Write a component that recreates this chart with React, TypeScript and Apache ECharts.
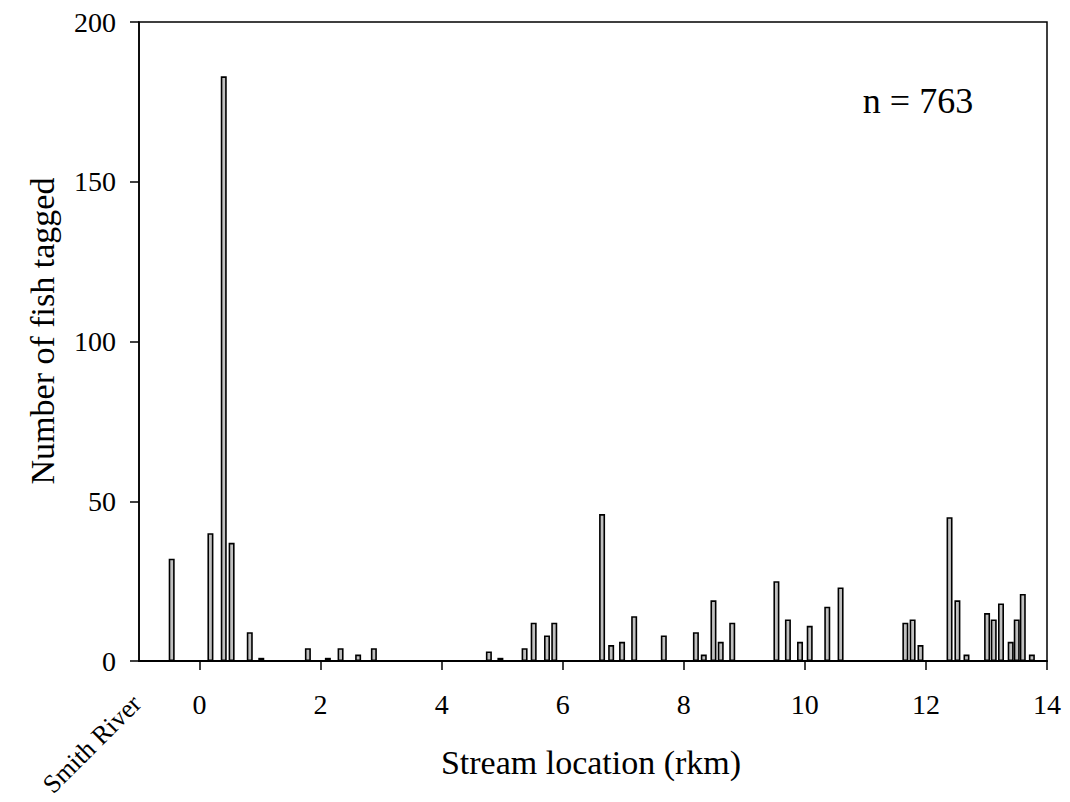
import React, { useEffect, useRef } from "react";
import * as echarts from "echarts";

const locations = [
  -0.46, 0.18, 0.4, 0.53, 0.83, 1.02, 1.79, 2.12, 2.33, 2.62, 2.88, 4.78, 4.97,
  5.37, 5.52, 5.74, 5.86, 6.65, 6.8, 6.98, 7.18, 7.67, 8.2, 8.33, 8.49, 8.61,
  8.8, 9.53, 9.72, 9.92, 10.08, 10.37, 10.59, 11.66, 11.78, 11.91, 12.39, 12.52,
  12.67, 13.01, 13.12, 13.24, 13.4, 13.5, 13.6, 13.75,
];
const counts = [
  32, 40, 183, 37, 9, 1, 4, 1, 4, 2, 4, 3, 1, 4, 12, 8, 12, 46, 5, 6, 14, 8, 9,
  2, 19, 6, 12, 25, 13, 6, 11, 17, 23, 12, 13, 5, 45, 19, 2, 15, 13, 18, 6, 13,
  21, 2,
];
const xTickValues = [0, 2, 4, 6, 8, 10, 12, 14];
const yTickValues = [0, 50, 100, 150, 200];

const FONT = "'Liberation Serif', 'Times New Roman', serif";

export default function App() {
  const ref = useRef<HTMLDivElement>(null);
  useEffect(() => {
    if (!ref.current) return;
    const chart = echarts.init(ref.current, null, { renderer: "svg" });
    const data = locations.map((x, i) => [x, counts[i]]);
    chart.setOption({
      animation: false,
      backgroundColor: "#fff",
      grid: {
        left: 139,
        right: 23,
        top: 22,
        bottom: 141,
        show: true,
        borderColor: "#000",
        borderWidth: 1.5,
        backgroundColor: "transparent",
      },
      xAxis: {
        type: "value",
        min: -1,
        max: 14,
        splitLine: { show: false },
        axisLine: { show: true, onZero: false, lineStyle: { color: "#000", width: 2 } },
        axisTick: {
          show: true,
          inside: false,
          length: 9,
          customValues: xTickValues,
          lineStyle: { color: "#000", width: 1.5 },
        },
        axisLabel: {
          customValues: xTickValues,
          color: "#000",
          fontFamily: FONT,
          fontSize: 28,
          margin: 29,
        },
      },
      yAxis: {
        type: "value",
        min: 0,
        max: 200,
        interval: 50,
        splitLine: { show: false },
        axisLine: { show: true, onZero: false, lineStyle: { color: "#000", width: 1.5 } },
        axisTick: {
          show: true,
          inside: false,
          length: 9,
          lineStyle: { color: "#000", width: 1.5 },
        },
        axisLabel: {
          color: "#000",
          fontFamily: FONT,
          fontSize: 28,
          margin: 23,
          formatter: (v: number) => (yTickValues.includes(v) ? String(v) : ""),
        },
      },
      series: [
        {
          type: "bar",
          data,
          barWidth: 6,
          itemStyle: { color: "#c0c0c0", borderColor: "#000", borderWidth: 1.6 },
        },
      ],
      graphic: [
        {
          type: "text",
          x: 918,
          y: 101,
          style: {
            text: "n = 763",
            fontFamily: FONT,
            fontSize: 36,
            fill: "#000",
            align: "center",
            verticalAlign: "middle",
          },
        },
        {
          type: "text",
          x: 591,
          y: 762,
          style: {
            text: "Stream location (rkm)",
            fontFamily: FONT,
            fontSize: 34,
            fill: "#000",
            align: "center",
            verticalAlign: "middle",
          },
        },
        {
          type: "text",
          x: 42,
          y: 331,
          rotation: Math.PI / 2,
          style: {
            text: "Number of fish tagged",
            fontFamily: FONT,
            fontSize: 34,
            fill: "#000",
            align: "center",
            verticalAlign: "middle",
          },
        },
        {
          type: "text",
          x: 92,
          y: 744,
          rotation: Math.PI / 4,
          style: {
            text: "Smith River",
            fontFamily: FONT,
            fontSize: 26,
            fill: "#000",
            align: "center",
            verticalAlign: "middle",
          },
        },
      ],
    });
    return () => chart.dispose();
  }, []);
  return (
    <div
      ref={ref}
      style={{ position: "fixed", left: 0, top: 0, width: 1070, height: 802 }}
    />
  );
}
